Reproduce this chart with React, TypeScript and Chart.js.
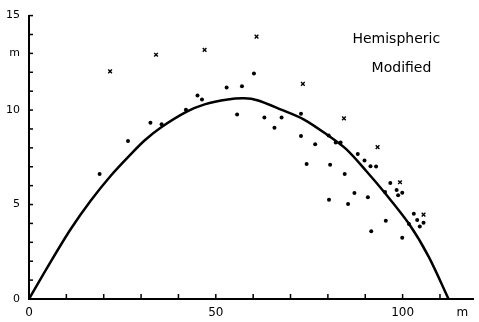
import React, { useEffect, useRef } from "react";
import { Chart, registerables } from "chart.js";

Chart.register(...registerables);

// Fitted curve
const curveX = [0, 5, 11, 16.5, 22, 26.7, 31, 35.5, 42.1, 47, 53.2, 57.6, 61.1, 67.3, 73.5, 79.6, 84.9, 90.2, 95.1, 101.7, 107, 112.3];
const curveY = [0, 1.7, 3.65, 5.2, 6.55, 7.55, 8.4, 9.1, 9.9, 10.3, 10.56, 10.62, 10.52, 10.04, 9.51, 8.72, 7.93, 6.79, 5.65, 3.98, 2.23, 0];

// Measured points (dots)
const dotX = [18.9, 26.5, 32.5, 35.5, 42.0, 45.1, 46.3, 52.9, 55.7, 57.0, 60.2, 63.0, 65.7, 67.6, 72.8, 72.8, 74.3, 76.6, 80.2, 80.6, 80.3, 82.1, 83.4, 84.5, 85.4, 87.1, 88.0, 89.8, 90.7, 91.4, 91.6, 92.9, 95.3, 95.5, 96.7, 98.4, 98.8, 99.9, 99.9, 101.7, 103.0, 103.9, 104.6, 105.6];
const dotY = [6.61, 8.36, 9.33, 9.25, 10.02, 10.77, 10.56, 11.2, 9.76, 11.26, 11.93, 9.6, 9.07, 9.6, 9.81, 8.63, 7.14, 8.19, 8.66, 7.1, 5.25, 8.28, 8.28, 6.61, 5.03, 5.61, 7.68, 7.33, 5.39, 7.03, 3.59, 7.01, 5.66, 4.14, 6.14, 5.77, 5.49, 5.62, 3.24, 3.97, 4.51, 4.18, 3.84, 4.03];

// Crosses
const crossX = [21.7, 34.0, 47.0, 60.9, 73.3, 84.3, 93.3, 99.3, 105.6];
const crossY = [12.05, 12.93, 13.19, 13.89, 11.39, 9.56, 8.04, 6.18, 4.47];

// Tick labels
const xTickValues = [0, 50, 100];
const xUnitAt = 116;
const yTickValues = [0, 5, 10, 15];
const yUnitAt = 13;
const xMinorTicks = [10, 20, 30, 40, 50, 60, 70, 80, 90, 100, 110];
const yMinorTicks = [1, 2, 3, 4, 5, 6, 7, 8, 9, 10, 11, 12, 13, 14, 15];

const labelLines = ["Hemispheric", "Modified"];
const labelPos = [
  { x: 98.3, y: 13.74 },
  { x: 99.7, y: 12.2 },
];

const FONT = "'DejaVu Sans', sans-serif";

const zip = (xs: number[], ys: number[]) => xs.map((x, i) => ({ x, y: ys[i] }));

const decorPlugin = {
  id: "decor",
  afterDraw(chart: any) {
    const { ctx, scales } = chart;
    const xs = scales.x;
    const ys = scales.y;
    ctx.save();
    ctx.strokeStyle = "#000";
    ctx.lineWidth = 1.5;
    const bottom = ys.getPixelForValue(0);
    const left = xs.getPixelForValue(0);
    xMinorTicks.forEach((v) => {
      const px = xs.getPixelForValue(v);
      ctx.beginPath();
      ctx.moveTo(px, bottom);
      ctx.lineTo(px, bottom - 5);
      ctx.stroke();
    });
    yMinorTicks.forEach((v) => {
      const py = ys.getPixelForValue(v);
      ctx.beginPath();
      ctx.moveTo(left, py);
      ctx.lineTo(left + 4, py);
      ctx.stroke();
    });
    ctx.fillStyle = "#000";
    ctx.font = `14px ${FONT}`;
    ctx.textAlign = "center";
    ctx.textBaseline = "middle";
    labelLines.forEach((t, i) => {
      ctx.fillText(t, xs.getPixelForValue(labelPos[i].x), ys.getPixelForValue(labelPos[i].y));
    });
    ctx.restore();
  },
};

export default function App() {
  const ref = useRef<HTMLCanvasElement | null>(null);
  useEffect(() => {
    document.body.style.margin = "0";
    const canvas = ref.current;
    if (!canvas) return;
    const chart = new Chart(canvas, {
      type: "scatter",
      data: {
        datasets: [
          {
            type: "line",
            data: zip(curveX, curveY),
            borderColor: "#000",
            borderWidth: 2.5,
            pointRadius: 0,
            tension: 0.3,
            fill: false,
          } as any,
          {
            data: zip(dotX, dotY),
            pointStyle: "circle",
            pointRadius: 2,
            backgroundColor: "#000",
            borderColor: "#000",
            borderWidth: 0,
          },
          {
            data: zip(crossX, crossY),
            pointStyle: "crossRot",
            pointRadius: 2.6,
            borderColor: "#000",
            borderWidth: 1.4,
          },
        ],
      },
      options: {
        responsive: false,
        animation: false,
        devicePixelRatio: 1,
        layout: { padding: { top: 14, right: 0, left: 0, bottom: 0 } },
        plugins: { legend: { display: false }, tooltip: { enabled: false } },
        scales: {
          x: {
            type: "linear",
            min: 0,
            max: 119,
            afterBuildTicks: (s: any) => {
              s.ticks = [...xTickValues, xUnitAt].map((v) => ({ value: v }));
            },
            afterFit: (s: any) => {
              s.height = 23;
            },
            ticks: {
              autoSkip: false,
              maxRotation: 0,
              padding: 7,
              color: "#000",
              font: { family: FONT, size: 12 },
              callback: (v: any) => (v === xUnitAt ? "m" : String(v)),
            },
            grid: { display: false, drawTicks: false },
            border: { color: "#000", width: 2 },
          },
          y: {
            type: "linear",
            min: 0,
            max: 15,
            afterBuildTicks: (s: any) => {
              s.ticks = [...yTickValues, yUnitAt].sort((a, b) => a - b).map((v) => ({ value: v }));
            },
            afterFit: (s: any) => {
              s.width = 29;
            },
            ticks: {
              autoSkip: false,
              padding: 9,
              color: "#000",
              font: { family: FONT, size: 11 },
              callback: (v: any) => (v === yUnitAt ? "m" : String(v)),
            },
            grid: { display: false, drawTicks: false },
            border: { color: "#000", width: 2 },
          },
        },
      },
      plugins: [decorPlugin],
    });
    return () => chart.destroy();
  }, []);
  return <canvas ref={ref} width={479} height={322} style={{ display: "block" }} />;
}
